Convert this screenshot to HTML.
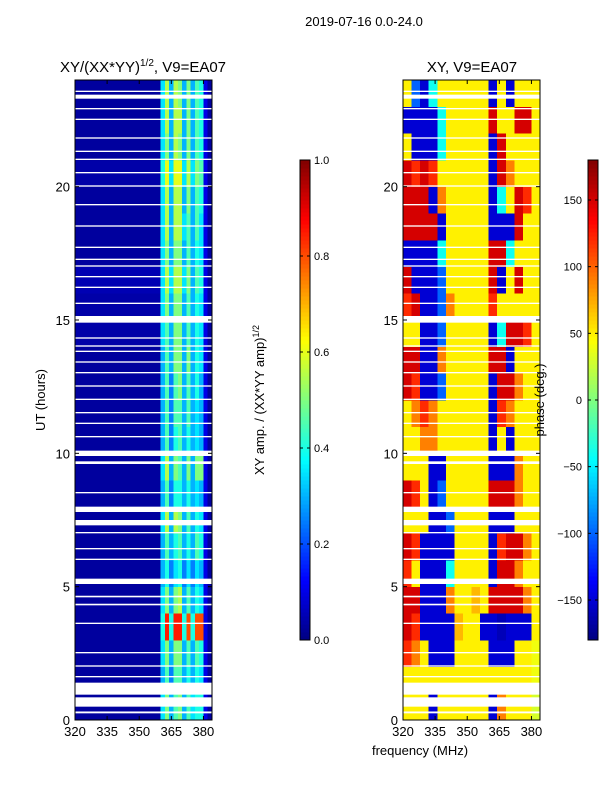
<!DOCTYPE html>
<html><head><meta charset="utf-8">
<style>
body{margin:0;background:#fff;font-family:"Liberation Sans",sans-serif;}
svg text{font-family:"Liberation Sans",sans-serif;fill:#000;}
</style></head>
<body>
<svg id="fig" width="600" height="800" xmlns="http://www.w3.org/2000/svg">
<rect width="600" height="800" fill="#fff"/>
<text x="364" y="26" font-size="13" text-anchor="middle">2019-07-16 0.0-24.0</text>
<text x="143" y="72" font-size="15" text-anchor="middle">XY/(XX*YY)<tspan font-size="10" dy="-6">1/2</tspan><tspan dy="6">, V9=EA07</tspan></text>
<text x="472" y="72" font-size="15" text-anchor="middle">XY, V9=EA07</text>
<text transform="translate(45,400) rotate(-90)" font-size="13" text-anchor="middle">UT (hours)</text>
<text transform="translate(264,400) rotate(-90)" font-size="13" text-anchor="middle">XY amp. / (XX*YY amp)<tspan font-size="9" dy="-5">1/2</tspan></text>
<g id="g"></g>
<text transform="translate(544,400) rotate(-90)" font-size="13" text-anchor="middle">phase (deg.)</text>
<text x="420" y="755" font-size="13" text-anchor="middle">frequency (MHz)</text>
</svg>
<script>
// ---- data ----
const freqTicks=[320,335,350,365,380];
const timeTicks=[0,5,10,15,20];
const ampTicks=[0.0,0.2,0.4,0.6,0.8,1.0];
const phaseTicks=[-150,-100,-50,0,50,100,150];
const ampFreqEdges=[320,360,362,364,366,368,370,372,374,376,378,380,382,384];
const ampRows=[
[0.03,0.35,0.5,0.3,0.45,0.5,0.3,0.45,0.35,0.4,0.4,0.1,0.03],
[0.03,0.3,0.45,0.25,0.45,0.45,0.3,0.4,0.3,0.4,0.35,0.1,0.03],
[0.03,0.35,0.5,0.3,0.5,0.5,0.3,0.45,0.3,0.45,0.4,0.1,0.03],
[0.03,0.4,0.85,0.4,0.85,0.85,0.4,0.8,0.4,0.8,0.8,0.1,0.03],
[0.03,0.35,0.5,0.3,0.5,0.55,0.3,0.45,0.3,0.4,0.35,0.1,0.03],
[0.03,0.3,0.4,0.25,0.35,0.4,0.25,0.35,0.25,0.35,0.3,0.1,0.03],
[0.03,0.3,0.45,0.3,0.4,0.45,0.3,0.4,0.3,0.45,0.4,0.1,0.03],
[0.03,0.35,0.55,0.3,0.55,0.5,0.3,0.45,0.3,0.4,0.35,0.1,0.03],
[0.03,0.3,0.45,0.25,0.4,0.4,0.3,0.4,0.3,0.35,0.3,0.1,0.03],
[0.03,0.35,0.55,0.3,0.5,0.45,0.3,0.5,0.3,0.5,0.5,0.1,0.03],
[0.03,0.3,0.45,0.25,0.4,0.45,0.3,0.4,0.3,0.35,0.3,0.1,0.03],
[0.03,0.3,0.45,0.25,0.45,0.45,0.3,0.45,0.3,0.35,0.3,0.1,0.03],
[0.03,0.3,0.45,0.25,0.45,0.5,0.3,0.45,0.3,0.4,0.3,0.1,0.03],
[0.03,0.3,0.45,0.3,0.5,0.5,0.3,0.5,0.3,0.4,0.35,0.1,0.03],
[0.04,0.35,0.45,0.3,0.5,0.5,0.3,0.45,0.3,0.4,0.35,0.1,0.03],
[0.04,0.35,0.5,0.3,0.5,0.5,0.3,0.45,0.3,0.4,0.35,0.1,0.03],
[0.05,0.35,0.55,0.35,0.55,0.55,0.35,0.5,0.3,0.45,0.4,0.1,0.03],
[0.03,0.35,0.5,0.3,0.5,0.5,0.3,0.45,0.3,0.4,0.35,0.1,0.03],
[0.03,0.35,0.55,0.3,0.55,0.55,0.35,0.45,0.3,0.45,0.35,0.1,0.03],
[0.03,0.35,0.55,0.3,0.55,0.55,0.3,0.5,0.3,0.45,0.4,0.1,0.03],
[0.04,0.4,0.6,0.35,0.6,0.6,0.35,0.55,0.35,0.5,0.45,0.1,0.03],
[0.03,0.35,0.5,0.3,0.55,0.5,0.3,0.5,0.3,0.45,0.4,0.1,0.03],
[0.03,0.35,0.55,0.3,0.55,0.55,0.3,0.5,0.3,0.45,0.4,0.1,0.03],
[0.03,0.35,0.55,0.3,0.55,0.5,0.3,0.5,0.3,0.45,0.4,0.1,0.03]
];
const phaseFreqEdges=[320,324,328,332,336,340,344,348,352,356,360,364,368,372,376,380,384];
const phaseRows=[
[50,50,50,-150,50,50,50,50,50,50,-150,90,50,50,50,30],
[50,50,50,50,50,50,50,50,50,50,50,50,50,50,50,40],
[120,90,50,-150,-150,-150,50,50,50,50,-150,-150,-150,50,50,40],
[150,120,-150,-150,-150,-150,70,50,50,-150,-150,-160,-150,-150,-150,50],
[150,150,-150,-150,-150,90,50,50,70,50,150,150,150,150,90,50],
[120,50,-150,-150,-150,-40,50,50,50,50,-150,150,150,90,50,50],
[150,120,-150,-150,-150,-150,50,50,50,50,-150,120,150,150,90,50],
[50,50,50,-150,-150,-100,50,50,50,50,-150,-150,-150,50,50,50],
[150,120,50,-150,-100,50,50,50,50,50,150,150,150,90,50,50],
[50,50,50,-150,-150,50,50,50,50,50,-150,-150,-150,90,50,50],
[50,50,90,90,50,50,50,50,50,50,-150,50,-150,50,50,50],
[50,90,120,90,50,50,50,50,50,50,-150,120,90,50,50,50],
[150,120,-150,-150,-100,50,50,50,50,50,-150,150,150,90,50,50],
[150,150,-150,-150,90,50,50,50,50,50,150,150,-150,50,50,50],
[50,50,-150,-150,-100,50,50,50,50,50,-150,-40,150,150,120,50],
[120,150,-150,-150,-100,90,50,50,50,50,120,50,50,50,50,50],
[150,-150,-150,-150,-100,50,50,50,50,50,150,-150,50,150,50,50],
[-150,-150,-150,-150,-40,50,50,50,50,50,150,150,-40,50,50,50],
[150,150,150,150,-150,50,50,50,50,50,-150,-150,-150,150,50,50],
[150,150,150,-150,90,50,50,50,50,50,-150,-40,50,150,120,50],
[150,120,150,120,50,50,50,50,50,50,-150,150,90,50,50,50],
[50,-150,-150,-150,-40,50,50,50,50,50,-150,150,50,50,50,50],
[-150,-150,-150,-150,-40,50,50,50,50,50,150,50,50,150,150,50],
[50,-100,-150,-40,50,50,50,50,50,50,-150,50,-150,50,50,50]
];
const gapStarts=[0.25,0.5,0.95,1.6,2.0,2.5,3.6,4.3,4.6,5.1,6.0,6.4,7.0,7.3,7.8,8.5,9.6,9.9,10.6,11.1,11.5,12.0,12.5,13.0,13.4,13.8,14.0,14.3,14.9,15.6,16.2,16.6,17.0,17.25,17.7,18.5,19.3,20.0,20.5,21.0,21.3,21.8,22.5,22.9,23.3,23.55];
const gapEnds=[0.32,0.85,1.4,1.65,2.05,2.55,3.65,4.36,4.66,5.3,6.05,6.45,7.05,7.5,8.0,8.55,9.7,10.1,10.65,11.15,11.55,12.05,12.55,13.05,13.45,13.85,14.05,14.35,15.15,15.65,16.25,16.65,17.05,17.3,17.75,18.55,19.35,20.05,20.55,21.05,21.35,21.85,22.55,22.95,23.45,23.6];
// ---- helpers ----
const NS="http://www.w3.org/2000/svg";
const G=document.getElementById('g');
function jet(v){v=Math.max(0,Math.min(1,v));
 const r=Math.max(0,Math.min(1,1.5-Math.abs(4*v-3))),g=Math.max(0,Math.min(1,1.5-Math.abs(4*v-2))),b=Math.max(0,Math.min(1,1.5-Math.abs(4*v-1)));
 return `rgb(${Math.round(r*255)},${Math.round(g*255)},${Math.round(b*255)})`;}
function mk(tag,attrs,parent){const e=document.createElementNS(NS,tag);for(const k in attrs)e.setAttribute(k,attrs[k]);(parent||G).appendChild(e);return e;}
const T0=720,T1=80;
const yT=t=>T0+(T1-T0)*t/24;
function xF(x0,x1){return f=>x0+(x1-x0)*(f-320)/64;}
function panel(x0,x1,edges,rows,norm,name){
 const xs=xF(x0,x1);
 for(let r=0;r<rows.length;r++)for(let c=0;c<rows[r].length;c++){
  const e=mk('rect',{x:xs(edges[c]),y:yT(r+1),width:xs(edges[c+1])-xs(edges[c])+0.3,height:yT(r)-yT(r+1)+0.3,fill:jet(norm(rows[r][c])),'shape-rendering':'crispEdges'});
  
  
 }
 for(let i=0;i<gapStarts.length;i++){
  const e=mk('rect',{x:x0,y:yT(gapEnds[i]),width:x1-x0,height:yT(gapStarts[i])-yT(gapEnds[i]),fill:'#fff'});
  
  
 }
 const fr=mk('rect',{x:x0,y:T1,width:x1-x0,height:T0-T1,fill:'none',stroke:'#000','stroke-width':1});
 
 
 for(const f of freqTicks){const x=xs(f);
  mk('line',{x1:x,x2:x,y1:T0,y2:T0-4,stroke:'#000'});mk('line',{x1:x,x2:x,y1:T1,y2:T1+4,stroke:'#000'});
  const t=mk('text',{x:x,y:T0+16,'font-size':13,'text-anchor':'middle'});t.textContent=f;
  
  }
 for(const h of timeTicks){const y=yT(h);
  mk('line',{x1:x0,x2:x0+4,y1:y,y2:y,stroke:'#000'});mk('line',{x1:x1,x2:x1-4,y1:y,y2:y,stroke:'#000'});
  const t=mk('text',{x:x0-5,y:y+5,'font-size':13,'text-anchor':'end'});t.textContent=h;
  
  }
}
panel(75,212,ampFreqEdges,ampRows,v=>v,'amp');
panel(403,540,phaseFreqEdges,phaseRows,v=>(v+180)/360,'phase');
function cbar(x,ticks,lo,hi,name,fmt,left){
 const n=120;
 for(let i=0;i<n;i++){mk('rect',{x:x,y:640-(i+1)*4,width:10,height:4.3,fill:jet((i+0.5)/n),'shape-rendering':'crispEdges'});}
 const fr=mk('rect',{x:x,y:160,width:10,height:480,fill:'none',stroke:'#000'});
 
 
 for(const v of ticks){const y=640-480*(v-lo)/(hi-lo);
  mk('line',{x1:x,x2:x+3,y1:y,y2:y,stroke:'#000'});mk('line',{x1:x+10,x2:x+7,y1:y,y2:y,stroke:'#000'});
  const t=left?mk('text',{x:x-6,y:y+4,'font-size':11,'text-anchor':'end'}):mk('text',{x:x+14,y:y+4,'font-size':11});
  t.textContent=fmt(v);
  
  }
}
cbar(300,ampTicks,0,1,'amp-colorbar',v=>v.toFixed(1),false);
cbar(588,phaseTicks,-180,180,'phase-colorbar',v=>v<0?'\u2212'+(-v):''+v,true);
</script>
</body></html>
